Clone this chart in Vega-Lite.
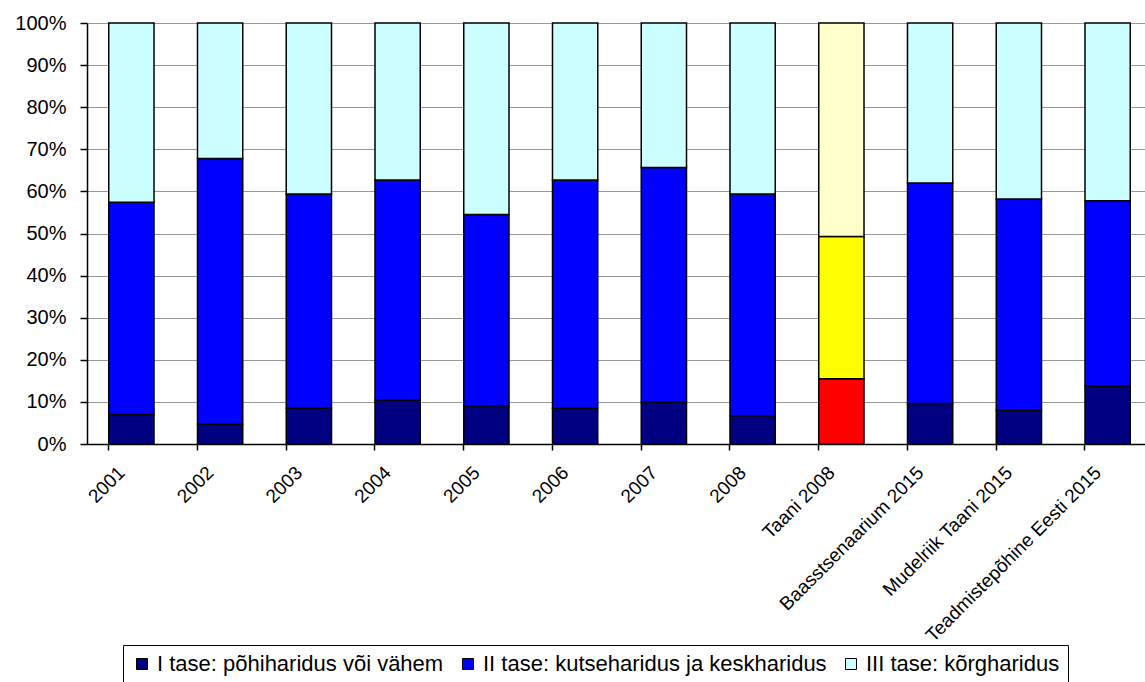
{
  "$schema": "https://vega.github.io/schema/vega-lite/v6.json",
  "autosize": "none",
  "width": 1058,
  "height": 421,
  "padding": {"left": 87, "top": 23, "right": 0, "bottom": 238},
  "background": "white",
  "config": {
    "font": "Liberation Sans",
    "view": {"stroke": null},
    "axis": {"labelColor": "black", "labelFont": "Liberation Sans", "domainColor": "black", "tickColor": "black", "domainWidth": 1.5, "tickWidth": 1.5}
  },
  "data": {
    "values": [
      {"kategooria": "2001", "jrk": 1, "grupp": "I tase: põhiharidus või vähem", "osakaal": 7.0},
      {"kategooria": "2001", "jrk": 2, "grupp": "II tase: kutseharidus ja keskharidus", "osakaal": 50.4},
      {"kategooria": "2001", "jrk": 3, "grupp": "III tase: kõrgharidus", "osakaal": 42.6},
      {"kategooria": "2002", "jrk": 1, "grupp": "I tase: põhiharidus või vähem", "osakaal": 4.7},
      {"kategooria": "2002", "jrk": 2, "grupp": "II tase: kutseharidus ja keskharidus", "osakaal": 63.1},
      {"kategooria": "2002", "jrk": 3, "grupp": "III tase: kõrgharidus", "osakaal": 32.2},
      {"kategooria": "2003", "jrk": 1, "grupp": "I tase: põhiharidus või vähem", "osakaal": 8.5},
      {"kategooria": "2003", "jrk": 2, "grupp": "II tase: kutseharidus ja keskharidus", "osakaal": 50.9},
      {"kategooria": "2003", "jrk": 3, "grupp": "III tase: kõrgharidus", "osakaal": 40.6},
      {"kategooria": "2004", "jrk": 1, "grupp": "I tase: põhiharidus või vähem", "osakaal": 10.4},
      {"kategooria": "2004", "jrk": 2, "grupp": "II tase: kutseharidus ja keskharidus", "osakaal": 52.3},
      {"kategooria": "2004", "jrk": 3, "grupp": "III tase: kõrgharidus", "osakaal": 37.3},
      {"kategooria": "2005", "jrk": 1, "grupp": "I tase: põhiharidus või vähem", "osakaal": 9.1},
      {"kategooria": "2005", "jrk": 2, "grupp": "II tase: kutseharidus ja keskharidus", "osakaal": 45.4},
      {"kategooria": "2005", "jrk": 3, "grupp": "III tase: kõrgharidus", "osakaal": 45.5},
      {"kategooria": "2006", "jrk": 1, "grupp": "I tase: põhiharidus või vähem", "osakaal": 8.5},
      {"kategooria": "2006", "jrk": 2, "grupp": "II tase: kutseharidus ja keskharidus", "osakaal": 54.2},
      {"kategooria": "2006", "jrk": 3, "grupp": "III tase: kõrgharidus", "osakaal": 37.3},
      {"kategooria": "2007", "jrk": 1, "grupp": "I tase: põhiharidus või vähem", "osakaal": 10.0},
      {"kategooria": "2007", "jrk": 2, "grupp": "II tase: kutseharidus ja keskharidus", "osakaal": 55.7},
      {"kategooria": "2007", "jrk": 3, "grupp": "III tase: kõrgharidus", "osakaal": 34.3},
      {"kategooria": "2008", "jrk": 1, "grupp": "I tase: põhiharidus või vähem", "osakaal": 6.7},
      {"kategooria": "2008", "jrk": 2, "grupp": "II tase: kutseharidus ja keskharidus", "osakaal": 52.7},
      {"kategooria": "2008", "jrk": 3, "grupp": "III tase: kõrgharidus", "osakaal": 40.6},
      {"kategooria": "Taani 2008", "jrk": 1, "grupp": "Taani 2008: I tase", "osakaal": 15.5},
      {"kategooria": "Taani 2008", "jrk": 2, "grupp": "Taani 2008: II tase", "osakaal": 33.8},
      {"kategooria": "Taani 2008", "jrk": 3, "grupp": "Taani 2008: III tase", "osakaal": 50.7},
      {"kategooria": "Baasstsenaarium 2015", "jrk": 1, "grupp": "I tase: põhiharidus või vähem", "osakaal": 9.6},
      {"kategooria": "Baasstsenaarium 2015", "jrk": 2, "grupp": "II tase: kutseharidus ja keskharidus", "osakaal": 52.4},
      {"kategooria": "Baasstsenaarium 2015", "jrk": 3, "grupp": "III tase: kõrgharidus", "osakaal": 38.0},
      {"kategooria": "Mudelriik Taani 2015", "jrk": 1, "grupp": "I tase: põhiharidus või vähem", "osakaal": 8.0},
      {"kategooria": "Mudelriik Taani 2015", "jrk": 2, "grupp": "II tase: kutseharidus ja keskharidus", "osakaal": 50.2},
      {"kategooria": "Mudelriik Taani 2015", "jrk": 3, "grupp": "III tase: kõrgharidus", "osakaal": 41.8},
      {"kategooria": "Teadmistepõhine Eesti 2015", "jrk": 1, "grupp": "I tase: põhiharidus või vähem", "osakaal": 13.8},
      {"kategooria": "Teadmistepõhine Eesti 2015", "jrk": 2, "grupp": "II tase: kutseharidus ja keskharidus", "osakaal": 44.0},
      {"kategooria": "Teadmistepõhine Eesti 2015", "jrk": 3, "grupp": "III tase: kõrgharidus", "osakaal": 42.2}
    ]
  },
  "mark": {"type": "bar", "stroke": "black", "strokeWidth": 1.5},
  "encoding": {
    "x": {
      "field": "kategooria",
      "type": "nominal",
      "sort": null,
      "scale": {"paddingInner": 0.49, "paddingOuter": 0.245, "range": [0, 1065]},
      "axis": {
        "title": null,
        "bandPosition": 0,
        "labelAngle": -45,
        "labelAlign": "right",
        "labelBaseline": "top",
        "labelFontSize": 19,
        "labelOffset": -16,
        "labelPadding": 13,
        "tickSize": 6,
        "labelLimit": 0,
        "grid": false
      }
    },
    "y": {
      "field": "osakaal",
      "type": "quantitative",
      "stack": "normalize",
      "scale": {"domain": [0, 1]},
      "axis": {
        "title": null,
        "format": ".0%",
        "values": [0, 0.1, 0.2, 0.3, 0.4, 0.5, 0.6, 0.7, 0.8, 0.9, 1],
        "labelFontSize": 20,
        "labelPadding": 14,
        "tickSize": 7,
        "grid": true,
        "gridColor": "#999999",
        "gridWidth": 1
      }
    },
    "order": {"field": "jrk", "type": "quantitative"},
    "color": {
      "field": "grupp",
      "type": "nominal",
      "scale": {
        "domain": ["I tase: põhiharidus või vähem", "II tase: kutseharidus ja keskharidus", "III tase: kõrgharidus", "Taani 2008: I tase", "Taani 2008: II tase", "Taani 2008: III tase"],
        "range": ["#000080", "#0000FF", "#CCFFFF", "#FF0000", "#FFFF00", "#FFFFCC"]
      },
      "legend": {
        "values": ["I tase: põhiharidus või vähem", "II tase: kutseharidus ja keskharidus", "III tase: kõrgharidus"],
        "title": null,
        "orient": "none",
        "legendX": 36,
        "legendY": 622,
        "direction": "horizontal",
        "symbolType": "square",
        "symbolSize": 121,
        "symbolStrokeColor": "black",
        "symbolStrokeWidth": 1,
        "labelFont": "Liberation Sans",
        "labelFontSize": 22,
        "labelColor": "black",
        "labelLimit": 0,
        "labelOffset": 4,
        "columnPadding": 13,
        "padding": 8,
        "strokeColor": "black"
      }
    }
  }
}
